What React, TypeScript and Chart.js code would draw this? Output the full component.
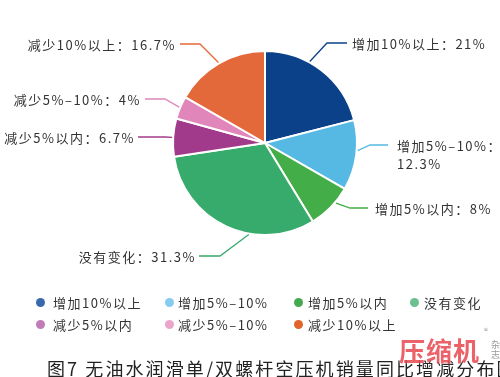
import React, { useEffect, useRef } from "react";
import { Chart, registerables } from "chart.js";

Chart.register(...registerables);

const categories = ["增加10%以上", "增加5%–10%", "增加5%以内", "没有变化", "减少5%以内", "减少5%–10%", "减少10%以上"];
const values = [21, 12.3, 8, 31.3, 6.7, 4, 16.7];
const sliceColors = ["#0b4189", "#55b9e4", "#43ad48", "#36ab6b", "#a23a8b", "#e086bb", "#e4693a"];
const legendColors = ["#3a68ae", "#87cbee", "#45a94f", "#6cc090", "#c17bb8", "#eaa5cb", "#e0642c"];
const caption = "图7 无油水润滑单/双螺杆空压机销量同比增减分布图";

// leader-line layout: angle nudge (deg), elbow offset from pie centre, horizontal run, text side
const labelLayout = [
  { da: -9, ex: 62, ey: -100, run: 20, gap: 5, side: "left", split: false },
  { da: -3, ex: 105, ey: 2, run: 18, gap: 9, side: "left", split: true },
  { da: -4, ex: 85, ey: 65, run: 18, gap: 7, side: "left", split: false },
  { da: -15, ex: -45, ey: 113, run: -21, gap: 3, side: "right", split: false },
  { da: 0, ex: -100, ey: -6, run: -27, gap: 3, side: "right", split: false },
  { da: 0, ex: -100, ey: -44, run: -20, gap: 4, side: "right", split: false },
  { da: 0, ex: -65, ey: -99, run: -20, gap: 4, side: "right", split: false },
];

const FONT = '"Noto Sans CJK SC", "Noto Sans", sans-serif';

const leaderPlugin = {
  id: "leaders",
  afterDraw(chart: any) {
    const ctx = chart.ctx as CanvasRenderingContext2D;
    const meta = chart.getDatasetMeta(0);
    ctx.save();
    meta.data.forEach((arc: any, i: number) => {
      const p = arc.getProps(["x", "y", "startAngle", "endAngle", "outerRadius"], true);
      const L = labelLayout[i];
      const mid = (p.startAngle + p.endAngle) / 2 + (L.da * Math.PI) / 180;
      const r = p.outerRadius + 1;
      const sx = p.x + Math.cos(mid) * r;
      const sy = p.y + Math.sin(mid) * r;
      const ex = p.x + L.ex;
      const ey = p.y + L.ey;
      const endX = ex + L.run;
      ctx.strokeStyle = sliceColors[i];
      ctx.lineWidth = 1.3;
      ctx.beginPath();
      ctx.moveTo(sx, sy);
      ctx.lineTo(ex, ey);
      ctx.lineTo(endX, ey);
      ctx.stroke();

      ctx.fillStyle = "#333";
      ctx.font = `13px ${FONT}`;
      (ctx as any).letterSpacing = "1.5px";
      ctx.textBaseline = "middle";
      const full = `${categories[i]}：${values[i]}%`;
      if (L.side === "left") {
        ctx.textAlign = "left";
        const tx = endX + L.gap;
        if (L.split) {
          ctx.fillText(`${categories[i]}：`, tx, ey + 1);
          ctx.fillText(`${values[i]}%`, tx, ey + 19);
        } else {
          ctx.fillText(full, tx, ey + 1);
        }
      } else {
        ctx.textAlign = "right";
        ctx.fillText(full, endX - L.gap, ey + 1);
      }
    });
    ctx.restore();
  },
};

const legendCols = [36, 165, 294, 410];
const legendGaps = [8, 4, 5, 5];

export default function App() {
  const ref = useRef<HTMLCanvasElement>(null);
  useEffect(() => {
    const chart = new Chart(ref.current!, {
      type: "pie",
      data: {
        labels: categories,
        datasets: [
          {
            data: values,
            backgroundColor: sliceColors,
            borderColor: "#ffffff",
            borderWidth: 2,
          },
        ],
      },
      options: {
        responsive: false,
        animation: false,
        layout: { padding: { left: 172, right: 142, top: 50, bottom: 141 } },
        plugins: { legend: { display: false }, tooltip: { enabled: false } },
      },
      plugins: [leaderPlugin],
    });
    return () => chart.destroy();
  }, []);

  return (
    <div style={{ position: "absolute", left: 0, top: 0, width: 500, height: 377, background: "#fff", overflow: "hidden", fontFamily: FONT }}>
      <canvas ref={ref} width={500} height={377} style={{ display: "block", position: "absolute", left: 0, top: 0 }} />
      {categories.map((c, i) => {
        const row = i < 4 ? 0 : 1;
        const col = i < 4 ? i : i - 4;
        const y = row === 0 ? 302 : 324;
        const x = legendCols[col];
        return (
          <div key={c} style={{ position: "absolute", left: x, top: y - 10, height: 20, display: "flex", alignItems: "center", whiteSpace: "nowrap" }}>
            <span style={{ width: 9, height: 9, borderRadius: "50%", background: legendColors[i], display: "inline-block", marginRight: legendGaps[col] }} />
            <span style={{ fontSize: 13, letterSpacing: "1.5px", color: "#333" }}>{c}</span>
          </div>
        );
      })}
      <div style={{ position: "absolute", left: 47, top: 357, fontSize: 18, letterSpacing: "2.1px", color: "#222", whiteSpace: "nowrap", lineHeight: "22px" }}>
        {caption}
      </div>
      <div style={{ position: "absolute", left: 399, top: 335, fontSize: 26, fontWeight: 700, color: "#e8474f", opacity: 0.85, whiteSpace: "nowrap", lineHeight: "30px", letterSpacing: "1px", textShadow: "0 0 2px #fff" }}>
        压缩机
      </div>
      <div style={{ position: "absolute", left: 484, top: 326, fontSize: 8, color: "#999", lineHeight: "10px" }}>®</div>
      <div style={{ position: "absolute", left: 491, top: 340, fontSize: 9, color: "#999", lineHeight: "10px" }}>
        <div>杂</div>
        <div>志</div>
      </div>
    </div>
  );
}
